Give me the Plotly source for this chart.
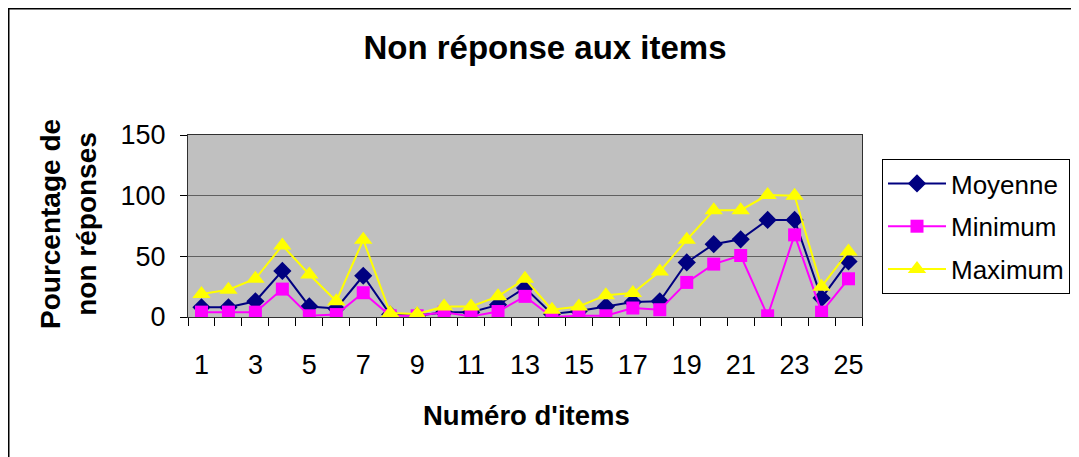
import plotly.graph_objects as go

items = list(range(1, 26))
moyenne = [8, 8, 13, 38, 8.7, 7, 34, 2, 1, 4, 4, 10, 24, 2.5, 5, 8.7, 12.3, 12.9, 45, 60, 64, 80, 80, 15.6, 45.8]
minimum = [4, 4, 4, 23, 1, 2, 20, 1, 1, 4, 0.5, 4.5, 17, 0, 1, 1, 7.4, 6, 28.5, 43.6, 50.7, 1, 67.7, 4, 31.5]
maximum = [19, 22.5, 31.5, 59, 35, 13, 63.6, 3.3, 2.5, 8.7, 8.7, 17, 31.5, 6, 8.7, 18, 19.7, 37.5, 63.6, 88, 88, 100.6, 100, 25, 54]
x_tickvals = list(range(1, 26, 2))
x_ticktext = [str(v) for v in x_tickvals]
y_tickvals = [0, 50, 100, 150]

FONT = "Liberation Sans, Arial, sans-serif"
OFF = 8  # page body margin
W, H = 1079 - OFF, 457 - OFF

# plot area in page pixels
PX0, PX1, PY0, PY1 = 188, 862, 135, 317

fig = go.Figure()
fig.add_trace(go.Scatter(x=items, y=moyenne, name="Moyenne", mode="lines+markers", legendgroup="a",
                         line=dict(color="#000080", width=2),
                         marker=dict(symbol="diamond", size=14, color="#000080")))
fig.add_trace(go.Scatter(x=items, y=minimum, name="Minimum", mode="lines+markers", legendgroup="b",
                         line=dict(color="#FF00FF", width=2),
                         marker=dict(symbol="square", size=13, color="#FF00FF")))
fig.add_trace(go.Scatter(x=items, y=maximum, name="Maximum", mode="lines+markers", legendgroup="c",
                         line=dict(color="#FFFF00", width=2),
                         marker=dict(symbol="triangle-up", size=16, color="#FFFF00")))

L = PX0 - OFF
R = W - (PX1 - OFF)
T = PY0 - OFF
B = H - (PY1 - OFF)
pw, ph = PX1 - PX0, PY1 - PY0

def px(xp):
    return (xp - PX0) / pw

def py(yp):
    return (PY1 - yp) / ph

fig.update_layout(
    width=W, height=H,
    margin=dict(l=L, r=R, t=T, b=B, autoexpand=False),
    paper_bgcolor="white",
    plot_bgcolor="#C0C0C0",
    font=dict(family=FONT, color="black"),
    title=dict(text="<b>Non réponse aux items</b>", x=(545 - OFF) / W, xanchor="center",
               y=1 - (47 - OFF) / H, yanchor="middle", font=dict(size=33, family=FONT)),
    showlegend=True,
    legend=dict(x=px(882), y=py(159), xanchor="left", yanchor="top",
                bordercolor="black", borderwidth=1, bgcolor="white",
                font=dict(size=26, family=FONT), tracegroupgap=6, itemwidth=58,
                entrywidth=136),
    xaxis=dict(range=[0.5, 25.5], tickmode="array", tickvals=x_tickvals, ticktext=x_ticktext,
               showgrid=False, zeroline=False, ticks="", ticklabelstandoff=24,
               tickfont=dict(size=27, family=FONT),
               showline=True, linecolor="#303030", linewidth=1, mirror=True,
               minor=dict(tickmode="array", tickvals=[0.5 + i for i in range(26)],
                          ticks="outside", ticklen=8, tickcolor="black", showgrid=False)),
    yaxis=dict(range=[0, 150], tickmode="array", tickvals=y_tickvals,
               showgrid=True, gridcolor="#606060", gridwidth=1, zeroline=False,
               ticks="outside", ticklen=7, tickcolor="black", ticklabelstandoff=9,
               tickfont=dict(size=27, family=FONT),
               showline=True, linecolor="#303030", linewidth=1, mirror=True),
    annotations=[
        dict(text="<b>Pourcentage de<br>non réponses</b>", xref="paper", yref="paper",
             x=px(68), y=py(224), xanchor="center", yanchor="middle", textangle=-90,
             showarrow=False, font=dict(size=28, family=FONT)),
        dict(text="<b>Numéro d'items</b>", xref="paper", yref="paper",
             x=px(526), y=py(415), xanchor="center", yanchor="middle",
             showarrow=False, font=dict(size=27.5, family=FONT)),
    ],
    shapes=[
        dict(type="rect", xref="paper", yref="paper", x0=px(8.5), x1=px(1100), y0=py(480), y1=py(8.5),
             line=dict(color="black", width=2), fillcolor="rgba(0,0,0,0)"),
    ],
)

fig.write_html("out.html")
